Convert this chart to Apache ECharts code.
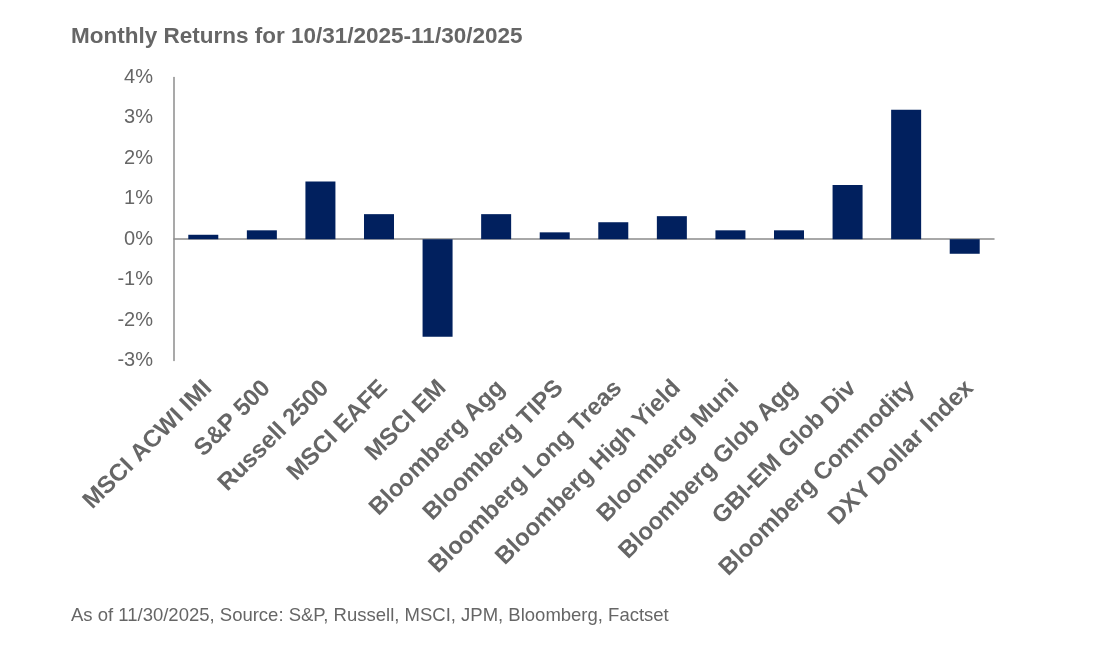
<!DOCTYPE html>
<html>
<head>
<meta charset="utf-8">
<script src="https://cdn.jsdelivr.net/npm/echarts@6/dist/echarts.min.js"></script>
<style>
html,body{margin:0;padding:0;background:#fff;}
#chart{width:1101px;height:655px;}
</style>
</head>
<body>
<div id="chart"></div>
<script>
var categories = ['MSCI ACWI IMI','S&P 500','Russell 2500','MSCI EAFE','MSCI EM','Bloomberg Agg','Bloomberg TIPS','Bloomberg Long Treas','Bloomberg High Yield','Bloomberg Muni','Bloomberg Glob Agg','GBI-EM Glob Div','Bloomberg Commodity','DXY Dollar Index'];
var returns = [0.11, 0.22, 1.43, 0.62, -2.41, 0.62, 0.17, 0.42, 0.57, 0.22, 0.22, 1.34, 3.20, -0.36];
var titleText = 'Monthly Returns for 10/31/2025-11/30/2025';
var sourceText = 'As of 11/30/2025, Source: S&P, Russell, MSCI, JPM, Bloomberg, Factset';
var yMin = -3, yMax = 4, yStep = 1;

var FONT = '"Liberation Sans", Arial, sans-serif';
var GREY = '#666666';
var chart = echarts.init(document.getElementById('chart'), null, {renderer: 'canvas'});
chart.setOption({
  animation: false,
  backgroundColor: '#ffffff',
  title: [
    {text: titleText, left: 71, top: 25, padding: 0, textStyle: {fontFamily: FONT, fontSize: 22.5, fontWeight: 'bold', color: GREY}},
    {text: sourceText, left: 71, top: 606, padding: 0, textStyle: {fontFamily: FONT, fontSize: 18.5, fontWeight: 'normal', color: GREY}}
  ],
  grid: [
    {left: 174, right: 107, top: 77.5, bottom: 294.5, containLabel: false},
    {left: 66, right: 34, top: 651, height: 4, containLabel: false}
  ],
  xAxis: [
    {type: 'category', gridIndex: 0, data: categories, position: 'bottom',
     axisLine: {show: true, onZero: true, lineStyle: {color: '#8c8c8c', width: 1.5}},
     axisTick: {show: false}, axisLabel: {show: false}, splitLine: {show: false}},
    {type: 'category', gridIndex: 0, data: categories, position: 'bottom',
     axisLine: {show: false, onZero: false}, axisTick: {show: false}, splitLine: {show: false},
     axisLabel: {show: true, interval: 0, rotate: 45, margin: 12, align: 'right', verticalAlign: 'top',
       padding: [0, 5, 0, 0],
       fontFamily: FONT, fontSize: 24, fontWeight: 'bold', color: GREY, lineHeight: 24}},
    {type: 'category', gridIndex: 1, data: categories, position: 'top', boundaryGap: false,
     axisLine: {show: false}, axisLabel: {show: false}, splitLine: {show: false},
     axisTick: {show: true, inside: true, length: 4, interval: 0, lineStyle: {color: '#c8c8c8', width: 1}}}
  ],
  yAxis: [
    {type: 'value', gridIndex: 0, min: yMin, max: yMax, interval: yStep,
     axisLine: {show: true, lineStyle: {color: '#8c8c8c', width: 1.5}},
     axisTick: {show: false}, splitLine: {show: false},
     axisLabel: {formatter: '{value}%', margin: 21, fontFamily: FONT, fontSize: 20, color: GREY}},
    {type: 'value', gridIndex: 1, show: false}
  ],
  series: [
    {type: 'bar', xAxisIndex: 0, yAxisIndex: 0, data: returns, barWidth: 30,
     itemStyle: {color: '#01205e'}}
  ]
});
</script>
</body>
</html>
